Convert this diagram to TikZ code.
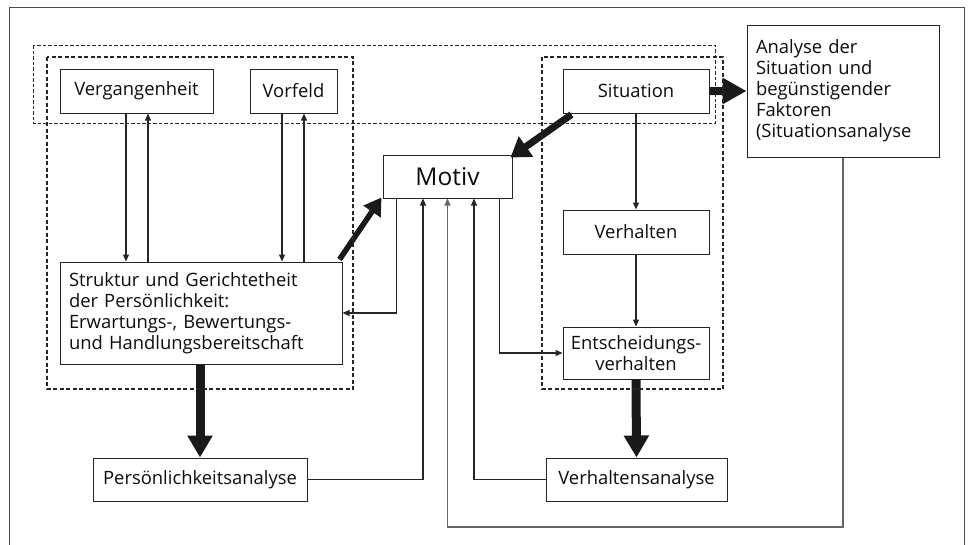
\documentclass[tikz,border=0pt]{standalone}
\usepackage{fontspec}
\setmainfont{Open Sans}
\usetikzlibrary{arrows.meta}
\newcommand{\fs}{\fontsize{18.4}{21}\selectfont}
\tikzset{
  box/.style={draw=black!85, line width=1pt, fill=white, inner sep=0pt, font=\fs, align=center, text=black!95},
  thinarr/.style={draw=black!85, line width=1.2pt, -{Triangle[length=7pt,width=6pt]}},
  thickarr/.style={draw=black!90, line width=9pt, -{Triangle[length=22pt,width=24pt]}},
  diagarr/.style={draw=black!90, line width=5.5pt, -{Triangle[length=17pt,width=20pt]}},
  grp/.style={draw=black!85, line width=1.1pt, dash pattern=on 4pt off 2.5pt},
}
\begin{document}
\begin{tikzpicture}[x=1pt,y=-1pt]
\useasboundingbox (0,0) rectangle (969,544);
\draw[draw=black!70, line width=1pt] (9,7) rectangle (964,560);

% nodes
\node[box, minimum width=153, minimum height=44] (verg) at (136.5,91) {Vergangenheit};
\node[box, minimum width=87, minimum height=44] (vorf) at (293.5,91) {Vorfeld};
\node[box, minimum width=146, minimum height=44] (sit) at (636,91) {Situation};
\node[box, minimum width=192, minimum height=132, align=left, text width=174] (ana) at (843,91) {Analyse der\\Situation und\\begünstigender\\Faktoren\\(Situationsanalyse};
\node[box, minimum width=129, minimum height=43, font=\fontsize{24.5}{28}\selectfont] (motiv) at (447.5,176.5) {Motiv};
\node[box, minimum width=146, minimum height=44] (verh) at (636,232) {Verhalten};
\node[box, minimum width=282, minimum height=102, align=left, text width=264] (struct) at (201,313) {Struktur und Gerichtetheit\\der Persönlichkeit:\\Erwartungs-, Bewertungs-\\und Handlungsbereitschaft};
\node[box, minimum width=146, minimum height=52] (ent) at (636,353) {Entscheidungs-\\verhalten};
\node[box, minimum width=214, minimum height=43] (pers) at (200,479.5) {Persönlichkeitsanalyse};
\node[box, minimum width=181, minimum height=43] (vana) at (636.5,479.5) {Verhaltensanalyse};
\coordinate (low) at (447.5,527);

% thin arrows
\draw[thinarr] ([xshift=-10.5]verg.south) -- ([xshift=-10.5]verg.south |- struct.north);
\draw[thinarr] ([xshift=11.5]verg.south |- struct.north) -- ([xshift=11.5]verg.south);
\draw[thinarr] ([xshift=-11.5]vorf.south) -- ([xshift=-11.5]vorf.south |- struct.north);
\draw[thinarr] ([xshift=10.5]vorf.south |- struct.north) -- ([xshift=10.5]vorf.south);
\draw[thinarr] (sit.south) -- (verh.north);
\draw[thinarr] (verh.south) -- (ent.north);
\draw[thinarr] ([xshift=14]motiv.south west) |- (struct.east);
\draw[thinarr] ([xshift=-13]motiv.south east) |- (ent.west);
\draw[thinarr] (pers.east) -| ([xshift=-24.5]motiv.south);
\draw[thinarr] (vana.west) -| ([xshift=26.5]motiv.south);
\draw[thinarr, draw=black!60] (ana.south) |- (low) -- (motiv.south);

% thick arrows
\draw[thickarr] (pers.north |- struct.south) -- (pers.north);
\draw[thickarr] (ent.south) -- (vana.north);
\draw[thickarr, line width=8pt, -{Triangle[length=24pt,width=25pt]}] (sit.east) -- (ana.west |- sit.east);
\draw[diagarr] ([xshift=-3,yshift=2]struct.north east) -- ([xshift=-1,yshift=1]motiv.south west);
\draw[diagarr, line width=7pt, -{Triangle[length=19pt,width=24pt]}] ([xshift=9,yshift=-1]sit.south west) -- ([xshift=-2,yshift=-3]motiv.north east);

% groups
\draw[grp, dash pattern=on 3.5pt off 2pt, line width=1pt] (33,45) rectangle (715,123);
\draw[grp] (47,57) rectangle (353,389);
\draw[grp] (542,57) rectangle (723,389);
\end{tikzpicture}
\end{document}
